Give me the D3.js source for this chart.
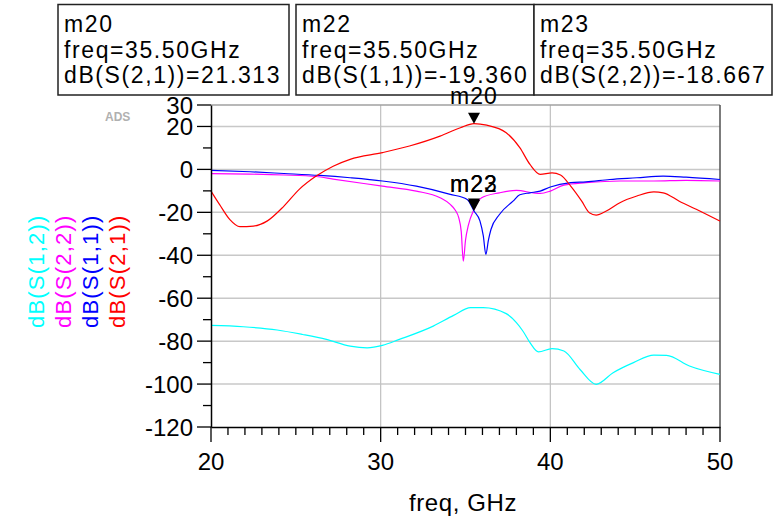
<!DOCTYPE html>
<html>
<head>
<meta charset="utf-8">
<script src="https://cdn.jsdelivr.net/npm/d3@7"></script>
<style>
  body { margin: 0; background: #fff; }
  svg { display: block; font-family: "Liberation Sans", Arial, sans-serif; }
</style>
</head>
<body>
<svg id="chart" width="775" height="516"></svg>
<script>
// S-parameter traces, frequency in GHz, magnitude in dB
const s21Freq = [20, 20.5, 21.1, 21.7, 22.5, 23.3, 24.3, 25.2, 26.2, 27.2, 28.2, 30.1, 31.7, 33.5, 34.7, 35.5, 36.25, 37.4, 38.2, 38.8, 39.4, 40.1, 40.6, 41.2, 41.85, 42.3, 42.7, 43.3, 44.1, 45.1, 46.1, 46.65, 47.6, 48.6, 50];
const s21dB   = [-10.1, -16.3, -23.3, -26.7, -26.4, -24.1, -17.1, -9.3, -3.1, 1.5, 4.7, 7.8, 10.9, 15.5, 19.4, 21.313, 20.6, 17.1, 10.1, 2.3, -2.3, -1.6, -2.6, -7.8, -14.8, -20.2, -21.3, -19.4, -15.5, -12.4, -10.5, -10.9, -14.8, -18.6, -24.1];

const s11Freq = [20, 22.3, 24.3, 26.4, 28.2, 30.1, 32.1, 34.1, 35.1, 35.5, 35.85, 36.05, 36.2, 36.35, 36.5, 37.0, 37.8, 38.2, 38.8, 39.4, 40.0, 41.2, 42.1, 43.5, 45.1, 46.65, 48.0, 50];
const s11dB   = [-0.5, -1.1, -1.9, -2.8, -3.9, -5.4, -7.8, -11.6, -14.0, -19.36, -24, -31, -39.6, -33, -28, -21, -14.8, -11.8, -10.9, -10.1, -8.2, -6.2, -5.8, -4.7, -3.9, -3.1, -3.6, -4.7];

const s22Freq = [20, 22.3, 24.3, 26.2, 27.2, 30.1, 32.1, 33.5, 34.1, 34.4, 34.6, 34.75, 34.87, 35.0, 35.17, 35.5, 35.95, 37.0, 38.0, 39.0, 39.4, 40.0, 40.8, 42.1, 44.1, 46.1, 48.0, 50];
const s22dB   = [-2.0, -2.2, -2.6, -3.3, -4.5, -7.8, -10.1, -13.2, -16.3, -19, -22.5, -29, -42.7, -33, -26, -18.667, -13.2, -10.9, -9.8, -10.9, -11.2, -10.1, -7.3, -6.2, -5.4, -5.4, -5.1, -5.4];

const s12Freq = [20, 21.9, 23.9, 25.4, 26.8, 28.2, 29.2, 30.1, 31.1, 33.1, 34.3, 35.3, 36.05, 37.4, 38.0, 38.4, 38.8, 39.3, 40.1, 40.8, 41.75, 42.7, 43.7, 44.9, 46.1, 46.85, 48.2, 50];
const s12dB   = [-72.7, -73.3, -74.8, -76.9, -79.2, -82.3, -83.1, -82.0, -79.2, -73.0, -68.0, -64.4, -64.4, -67.2, -71.4, -75.5, -80.7, -85.0, -83.5, -84.6, -93.2, -100.1, -94.7, -90.0, -86.5, -86.6, -91.6, -95.5];

// Trace names and colours, drawn in this order
const traceNames  = ["dB(S(1,2))", "dB(S(2,2))", "dB(S(1,1))", "dB(S(2,1))"];
const traceColors = ["#00ffff", "#ff00ff", "#0000ff", "#ff0000"];
const traceFreqs  = [s12Freq, s22Freq, s11Freq, s21Freq];
const traceDBs    = [s12dB, s22dB, s11dB, s21dB];

// Markers
const markerNames  = ["m20", "m22", "m23"];
const markerTraces = ["dB(S(2,1))", "dB(S(1,1))", "dB(S(2,2))"];
const markerFreq   = [35.5, 35.5, 35.5];
const markerValues = [21.313, -19.36, -18.667];

// Axis ticks
const yLabelTicks = [30, 20, 0, -20, -40, -60, -80, -100, -120];
const yGridTicks  = [20, 0, -20, -40, -60, -80, -100];
const xLabelTicks = [20, 30, 40, 50];
const xGridTicks  = [30, 40];

const svg = d3.select("#chart");
const x = d3.scaleLinear().domain([20, 50]).range([211, 720]);
const y = d3.scaleLinear().domain([-120, 30]).range([427, 105]);

// grid
svg.append("g").selectAll("line").data(yGridTicks).join("line")
  .attr("x1", x(20)).attr("x2", x(50))
  .attr("y1", d => y(d)).attr("y2", d => y(d))
  .attr("stroke", "#c8c8c8").attr("stroke-width", 1.5);
svg.append("g").selectAll("line").data(xGridTicks).join("line")
  .attr("x1", d => x(d)).attr("x2", d => x(d))
  .attr("y1", y(30)).attr("y2", y(-120))
  .attr("stroke", "#c0c0c0").attr("stroke-width", 1.2);

// frame top / right
svg.append("line").attr("x1", x(20)).attr("x2", x(50)).attr("y1", y(30)).attr("y2", y(30))
  .attr("stroke", "#a0a0a0").attr("stroke-width", 1.5);
svg.append("line").attr("x1", x(50)).attr("x2", x(50)).attr("y1", y(30)).attr("y2", y(-120))
  .attr("stroke", "#505050").attr("stroke-width", 1.5);

// traces
const line = d3.line().curve(d3.curveMonotoneX);
traceNames.forEach((name, i) => {
  const pts = traceFreqs[i].map((f, j) => [x(f), y(traceDBs[i][j])]);
  svg.append("path").attr("d", line(pts))
    .attr("fill", "none").attr("stroke", traceColors[i]).attr("stroke-width", 1.2);
});

// y axis
const yAxis = d3.axisLeft(y).tickValues(d3.range(-120, 31, 10)).tickSize(0).tickFormat("");
svg.append("g").attr("transform", `translate(${x(20)},0)`).call(yAxis)
  .call(g => g.select(".domain").attr("stroke", "#000").attr("stroke-width", 1.5));
const yTicks = svg.append("g");
d3.range(-120, 31, 10).forEach(v => {
  const major = yLabelTicks.includes(v);
  yTicks.append("line").attr("x1", x(20) - (major ? 14 : 8)).attr("x2", x(20))
    .attr("y1", y(v)).attr("y2", y(v)).attr("stroke", "#000").attr("stroke-width", 1.3);
});
yTicks.selectAll("text").data(yLabelTicks).join("text")
  .attr("x", 193).attr("y", d => y(d) + 8.5)
  .attr("text-anchor", "end").attr("font-size", 24).attr("fill", "#000")
  .text(d => d);

// x axis
const xAxis = d3.axisBottom(x).tickValues([]).tickSize(0);
svg.append("g").attr("transform", `translate(0,${y(-120)})`).call(xAxis)
  .call(g => g.select(".domain").attr("stroke", "#000").attr("stroke-width", 1.5));
const xTicks = svg.append("g");
d3.range(20, 51, 1).forEach(v => {
  const major = xLabelTicks.includes(v);
  xTicks.append("line").attr("x1", x(v)).attr("x2", x(v))
    .attr("y1", y(-120)).attr("y2", y(-120) + (major ? 15 : 8))
    .attr("stroke", "#000").attr("stroke-width", 1.3);
});
xTicks.selectAll("text").data(xLabelTicks).join("text")
  .attr("x", d => x(d)).attr("y", 470)
  .attr("text-anchor", "middle").attr("font-size", 24).attr("fill", "#000")
  .text(d => d);

svg.append("text").attr("x", 463).attr("y", 511).attr("text-anchor", "middle")
  .attr("font-size", 24).attr("letter-spacing", 0.6).text("freq, GHz");

// legend (rotated trace names)
const legendX = [44, 71, 98, 125];
traceNames.forEach((name, i) => {
  svg.append("text")
    .attr("transform", `translate(${legendX[i]},328) rotate(-90)`)
    .attr("font-size", 22).attr("letter-spacing", 1.2)
    .attr("fill", traceColors[i]).text(name);
});

// watermark
svg.append("text").attr("x", 105).attr("y", 121).attr("font-size", 12)
  .attr("font-weight", "bold").attr("fill", "#b0b0b0").text("ADS");

// marker readout boxes
const boxX = [58, 296, 534];
const boxW = [231, 238, 238];
markerNames.forEach((m, i) => {
  const g = svg.append("g");
  g.append("rect").attr("x", boxX[i]).attr("y", 4.5).attr("width", boxW[i]).attr("height", 90.5)
    .attr("fill", "#fff").attr("stroke", "#222").attr("stroke-width", 1.5);
  const lines = [m, `freq=${markerFreq[i].toFixed(2)}GHz`, `${markerTraces[i]}=${markerValues[i].toFixed(3)}`];
  lines.forEach((t, k) => {
    g.append("text").attr("x", boxX[i] + 6).attr("y", 32 + k * 25.5)
      .attr("font-size", 23).attr("letter-spacing", 1.6).attr("fill", "#000").text(t);
  });
});

// markers on traces
const markerLabelY = [104, 191.5, 191.5];
markerNames.forEach((m, i) => {
  const px = x(markerFreq[i]), py = y(markerValues[i]);
  svg.append("path")
    .attr("d", `M${px - 6},${py - 11}L${px + 6},${py - 11}L${px},${py}Z`)
    .attr("fill", "#000");
  svg.append("text").attr("x", px).attr("y", markerLabelY[i]).attr("text-anchor", "middle")
    .attr("font-size", 23).attr("letter-spacing", 1).attr("fill", "#000").text(m);
});
</script>
</body>
</html>
